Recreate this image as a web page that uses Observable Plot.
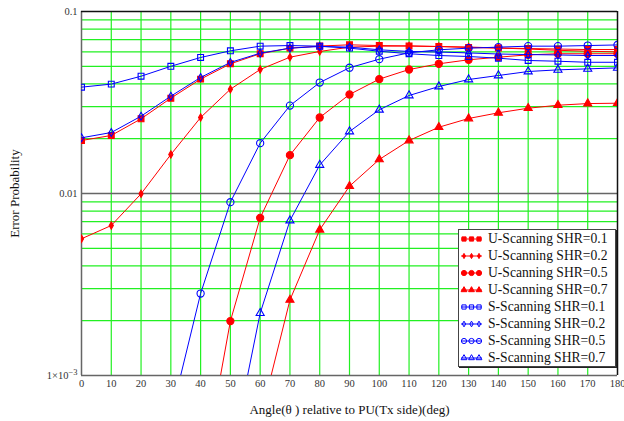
<!DOCTYPE html>
<html>
<head>
<meta charset="utf-8">
<script src="https://cdn.jsdelivr.net/npm/d3@7"></script>
<script src="https://cdn.jsdelivr.net/npm/@observablehq/plot@0.6"></script>
<style>
  body { margin: 0; background: #fff; }
  #wrap { position: relative; width: 624px; height: 421px; font-family: "Liberation Serif", "Times New Roman", serif; }
  #legend { position: absolute; left: 458px; top: 229px; width: 158px; height: 138px; background: #fff;
            border: 1px solid #444; box-shadow: 1px 1px 0 #222; box-sizing: border-box; padding-top: 0px; }
  .row { height: 17.1px; display: flex; align-items: center; font-size: 13.6px; color: #111; white-space: nowrap; }
  .row svg { margin-left: 1px; margin-right: 5px; }
</style>
</head>
<body>
<div id="wrap"><div id="chart"></div><div id="legend"></div></div>
<script>
const angles = [0,10,20,30,40,50,60,70,80,90,100,110,120,130,140,150,160,170,180];

const uScan01 = [0.01955,0.02084,0.02573,0.0334,0.0425,0.0516,0.0586,0.0629,0.0646,0.0656,0.0650,0.0646,0.0642,0.0634,0.0630,0.0626,0.0622,0.0618,0.0618];
const uScan02 = [0.00564,0.00667,0.00996,0.01638,0.02616,0.0374,0.0480,0.0561,0.0603,0.0637,0.0645,0.0647,0.0642,0.0638,0.0630,0.0622,0.0612,0.0605,0.0600];
const uScan05 = [null,null,null,null,0.000249,0.00199,0.00735,0.01624,0.02616,0.0350,0.0425,0.0480,0.0516,0.0543,0.0561,0.0578,0.0586,0.0586,0.0586];
const uScan07 = [null,null,null,null,null,null,0.000573,0.0026,0.00632,0.01097,0.01538,0.01955,0.02313,0.02583,0.02776,0.02942,0.03055,0.0312,0.03134];
const sScan01 = [0.0384,0.0399,0.0441,0.0500,0.0559,0.0608,0.0645,0.0650,0.0645,0.0629,0.0605,0.0586,0.0573,0.0566,0.0554,0.0538,0.0533,0.0526,0.0526];
const sScan02 = [0.02023,0.02163,0.02659,0.03425,0.0434,0.0525,0.0590,0.0629,0.0642,0.0637,0.0616,0.0603,0.0599,0.0592,0.0584,0.0580,0.0577,0.0573,0.0573];
const sScan05 = [null,null,null,0.0006,0.00282,0.00896,0.0189,0.0304,0.0407,0.0491,0.0547,0.0593,0.0616,0.0629,0.0637,0.0645,0.0645,0.0650,0.0655];
const sScan07 = [null,null,null,null,null,0.000341,0.0022,0.0071,0.01434,0.02191,0.02884,0.03455,0.0387,0.0423,0.0445,0.0468,0.0478,0.0484,0.0490];

const seriesNames = ["U-Scanning SHR=0.1","U-Scanning SHR=0.2","U-Scanning SHR=0.5","U-Scanning SHR=0.7",
                     "S-Scanning SHR=0.1","S-Scanning SHR=0.2","S-Scanning SHR=0.5","S-Scanning SHR=0.7"];
const seriesValues = [uScan01,uScan02,uScan05,uScan07,sScan01,sScan02,sScan05,sScan07];

const xTicks = [0,10,20,30,40,50,60,70,80,90,100,110,120,130,140,150,160,170,180];
const yTicks = [0.001,0.01,0.1];
const yTickLabels = ["1×10^-3","0.01","0.1"];
const yMinorGrid = [0.002,0.003,0.004,0.005,0.006,0.007,0.008,0.009,0.02,0.03,0.04,0.05,0.06,0.07,0.08,0.09];
const xLabel = "Angle(θ ) relative to PU(Tx side)(deg)";
const yLabel = "Error Probability";

const styles = [
  {color:"#ff0000", symbol:"square",   r:3.3, fill:true},
  {color:"#ff0000", symbol:"diamond",  r:2.2, fill:true},
  {color:"#ff0000", symbol:"circle",   r:3.6, fill:true},
  {color:"#ff0000", symbol:"triangle", r:3.0, fill:true},
  {color:"#0000ff", symbol:"square",   r:3.3, fill:false},
  {color:"#0000ff", symbol:"diamond",  r:2.4, fill:false},
  {color:"#0000ff", symbol:"circle",   r:3.6, fill:false},
  {color:"#0000ff", symbol:"triangle", r:3.0, fill:false}
];

const rows = [];
seriesNames.forEach((name, i) => {
  angles.forEach((a, j) => {
    rows.push({series: name, idx: i, angle: a, p: seriesValues[i][j]});
  });
});

const green = "#22f022";
const marks = [
  Plot.ruleY(yMinorGrid, {stroke: green, strokeWidth: 1.2}),
  Plot.ruleX(xTicks.filter(d => d > 0 && d < 180), {stroke: green, strokeWidth: 1.2}),
  Plot.ruleY([0.01], {stroke: "#666", strokeWidth: 1.5}),
  Plot.ruleY([0.001], {stroke: "#666", strokeWidth: 1.5}),
  Plot.ruleX([0], {stroke: "#666", strokeWidth: 1.5}),
  Plot.ruleY([0.1], {stroke: "#111", strokeWidth: 1.5}),
  Plot.ruleX([180], {stroke: "#111", strokeWidth: 1.5})
];

seriesNames.forEach((name, i) => {
  const data = rows.filter(d => d.idx === i);
  const s = styles[i];
  marks.push(Plot.line(data, {x: "angle", y: "p", stroke: s.color, strokeWidth: 1, clip: true}));
  marks.push(Plot.dot(data.filter(d => d.p != null), {
    x: "angle", y: "p", symbol: () => s.symbol, r: s.r,
    fill: s.fill ? s.color : "none", stroke: s.color, strokeWidth: 1.1, clip: true
  }));
});

const chart = Plot.plot({
  width: 624,
  height: 421,
  marginLeft: 81,
  marginRight: 7,
  marginTop: 11,
  marginBottom: 46,
  style: {fontFamily: "'Liberation Serif', 'Times New Roman', serif", fontSize: "10.5px", color: "#333", background: "#fff"},
  x: {domain: [0, 180], ticks: xTicks, tickSize: 0, tickPadding: 4, label: xLabel, labelAnchor: "center", labelOffset: 38, labelArrow: "none"},
  y: {type: "log", domain: [0.001, 0.1], ticks: yTicks, tickFormat: d => yTickLabels[yTicks.indexOf(d)], tickSize: 0, tickPadding: 4,
      label: yLabel, labelAnchor: "center", labelOffset: 72, labelArrow: "none"},
  symbol: {type: "identity"},
  marks
});
document.getElementById("chart").appendChild(chart);

d3.select(chart).selectAll("g[aria-label='x-axis label'] text").text(xLabel).style("font-size", "13px").style("fill", "#111");
d3.select(chart).selectAll("g[aria-label='y-axis label'] text").text(yLabel).style("font-size", "13px").style("fill", "#111");

d3.select(chart).selectAll("g[aria-label='y-axis tick label'] text").each(function() {
  const t = d3.select(this);
  const s = t.text();
  if (s.includes("^")) {
    const [base, exp] = s.split("^");
    t.text(null);
    t.append("tspan").text(base);
    t.append("tspan").attr("dy", "-0.45em").style("font-size", "8.5px").text(exp.replace("-", "−"));
  }
});

const legend = d3.select("#legend");
const symMap = {square: d3.symbolSquare, diamond: d3.symbolDiamond, circle: d3.symbolCircle, triangle: d3.symbolTriangle};
seriesNames.forEach((name, i) => {
  const s = styles[i];
  const row = legend.append("div").attr("class", "row");
  const svg = row.append("svg").attr("width", 23).attr("height", 12);
  svg.append("line").attr("x1", 1).attr("x2", 22).attr("y1", 6).attr("y2", 6).attr("stroke", s.color).attr("stroke-width", 1);
  [4, 11.5, 19].forEach(cx => {
    svg.append("path")
      .attr("transform", `translate(${cx},6)`)
      .attr("d", d3.symbol(symMap[s.symbol], Math.PI * (s.r * 0.72) * (s.r * 0.72))())
      .attr("fill", s.fill ? s.color : "none")
      .attr("stroke", s.color).attr("stroke-width", 1);
  });
  row.append("span").text(name);
});
</script>
</body>
</html>
